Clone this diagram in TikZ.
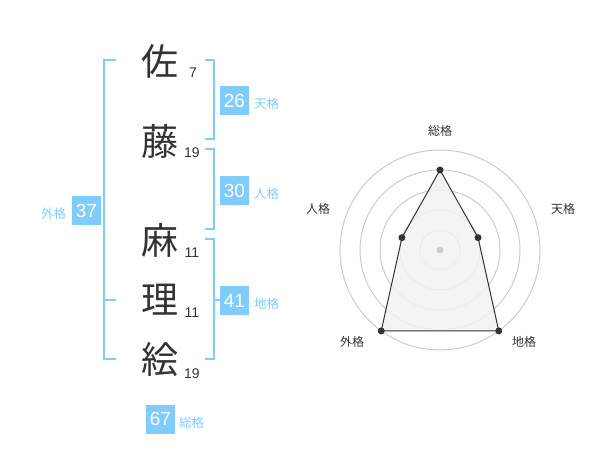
\documentclass[tikz,border=0pt]{standalone}
\usepackage{fontspec}
\usetikzlibrary{calc}
\setmainfont{Liberation Sans}
\newfontfamily\cjk{Noto Sans CJK JP}
\definecolor{kakublue}{RGB}{128,204,255}
\definecolor{inkgray}{RGB}{51,51,51}
\definecolor{ringgray}{RGB}{204,204,204}
\definecolor{areagray}{RGB}{242,242,242}
\tikzset{
  kanji/.style={inner sep=0, text=inkgray, font=\cjk\fontsize{37}{37}\selectfont},
  stroke/.style={inner sep=0, anchor=base, text=inkgray, font=\fontsize{14}{14}\selectfont},
  kakubox/.style={fill=kakublue, minimum size=29pt, inner sep=0, text=white, font=\fontsize{19}{19}\selectfont},
  kakulabel/.style={inner sep=0, text=kakublue, font=\cjk\fontsize{12.5}{12.5}\selectfont},
  bracket/.style={draw=kakublue, line width=2pt},
  axislabel/.style={inner sep=0, text=inkgray, font=\cjk\fontsize{12}{12}\selectfont},
  dot/.style={circle, fill=inkgray, inner sep=0, minimum size=7pt}
}
\begin{document}
\begin{tikzpicture}[x=1pt, y=-1pt]
\useasboundingbox (0,0) rectangle (600,470);
\node[kanji] (k0) at (160,61){佐};
\node[stroke] (s0) at (193,78){7};
\node[kanji] (k1) at (160,141){藤};
\node[stroke] (s1) at (192,158){19};
\node[kanji] (k2) at (160,240){麻};
\node[stroke] (s2) at (192,258){11};
\node[kanji] (k3) at (160,300){理};
\node[stroke] (s3) at (192,318){11};
\node[kanji] (k4) at (160,360){絵};
\node[stroke] (s4) at (192,378){19};
\draw[bracket] (116,60) -- (104,60) -- (104,359) -- (116,359);
\draw[bracket] (104,300) -- (116,300);
\draw[bracket] (205,60) -- (214,60) -- (214,139) -- (205,139);
\draw[bracket] (205,149) -- (214,149) -- (214,229) -- (205,229);
\draw[bracket] (205,239) -- (214,239) -- (214,359) -- (205,359);
\draw[bracket] (214,300) -- (222,300);
\node[kakubox] (ten) at (234.5,100.5){26};
\node[kakulabel, anchor=west] (tenl) at (254,104){天格};
\node[kakubox] (jin) at (234.5,190.5){30};
\node[kakulabel, anchor=west] (jinl) at (254,194){人格};
\node[kakubox] (chi) at (234.5,300.5){41};
\node[kakulabel, anchor=west] (chil) at (254,304){地格};
\node[kakubox] (gai) at (86.5,210.5){37};
\node[kakulabel] (gail) at (53.5,213.5){外格};
\node[kakubox] (sou) at (160.5,419){67};
\node[kakulabel] (soul) at (191.5,422.5){総格};
\foreach \r in {20,40,60,80,100}
  \draw[ringgray, line width=1pt] (440,250) circle (\r);
\coordinate (c) at (440,250);
\coordinate (psou) at ($(c)+(-90:80)$);
\coordinate (pten) at ($(c)+(-18:40)$);
\coordinate (pchi) at ($(c)+(54:100)$);
\coordinate (pgai) at ($(c)+(126:100)$);
\coordinate (pjin) at ($(c)+(198:40)$);
\draw[inkgray, fill=areagray, fill opacity=0.85, line width=1pt] (psou) -- (pten) -- (pchi) -- (pgai) -- (pjin) -- cycle;
\node[circle, fill=ringgray, inner sep=0, minimum size=7pt] (cdot) at (c){};
\node[dot] (dsou) at (psou){};
\node[dot] (dten) at (pten){};
\node[dot] (dchi) at (pchi){};
\node[dot] (dgai) at (pgai){};
\node[dot] (djin) at (pjin){};
\node[axislabel] (lsou) at (440,131){総格};
\node[axislabel] (lten) at (563,209){天格};
\node[axislabel] (lchi) at (524,342){地格};
\node[axislabel] (lgai) at (352,342){外格};
\node[axislabel] (ljin) at (318,209){人格};
\end{tikzpicture}
\end{document}
